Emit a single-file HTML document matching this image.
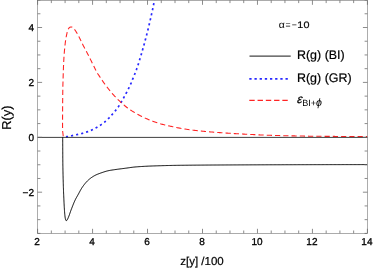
<!DOCTYPE html>
<html><head><meta charset="utf-8"><title>plot</title>
<style>
html,body{margin:0;padding:0;background:#fff;}
body{width:374px;height:270px;overflow:hidden;font-family:"Liberation Sans",sans-serif;}
svg{display:block;will-change:transform;transform:translateZ(0)}
text{font-family:"Liberation Sans",sans-serif;fill:#000;text-rendering:geometricPrecision}
.tl text{font-size:10px;stroke:#000;stroke-width:0.3px}
</style></head><body>
<svg width="374" height="270" viewBox="0 0 374 270">
<rect width="374" height="270" fill="#fff"/>
<defs><clipPath id="c"><rect x="37.6" y="0.3" width="329.79999999999995" height="233.0"/></clipPath></defs>
<g clip-path="url(#c)"><g fill="none" transform="scale(1,1.0)">
<path d="M62.70,137.00 L62.70,137.80 L62.70,138.60 L62.70,139.40 L62.70,140.20 L62.70,141.00 L62.71,141.80 L62.71,142.60 L62.71,143.40 L62.71,144.20 L62.71,145.00 L62.72,145.80 L62.72,146.60 L62.72,147.40 L62.73,148.20 L62.73,149.00 L62.74,149.80 L62.74,150.60 L62.74,151.40 L62.75,152.20 L62.75,153.00 L62.76,153.80 L62.76,154.60 L62.77,155.40 L62.77,156.20 L62.78,157.00 L62.78,157.80 L62.79,158.60 L62.80,159.40 L62.80,160.20 L62.81,161.00 L62.82,161.80 L62.82,162.60 L62.83,163.40 L62.84,164.20 L62.85,165.00 L62.87,165.80 L62.88,166.60 L62.89,167.40 L62.91,168.20 L62.92,169.00 L62.94,169.80 L62.95,170.60 L62.97,171.40 L62.99,172.20 L63.01,173.00 L63.02,173.80 L63.04,174.60 L63.06,175.40 L63.08,176.20 L63.10,177.00 L63.12,177.80 L63.14,178.60 L63.16,179.40 L63.19,180.20 L63.21,181.00 L63.23,181.80 L63.25,182.60 L63.27,183.40 L63.29,184.19 L63.32,184.99 L63.34,185.79 L63.36,186.59 L63.39,187.39 L63.42,188.19 L63.44,188.99 L63.47,189.79 L63.50,190.59 L63.53,191.39 L63.56,192.19 L63.59,192.99 L63.62,193.79 L63.66,194.59 L63.69,195.39 L63.73,196.19 L63.76,196.99 L63.80,197.79 L63.83,198.59 L63.87,199.38 L63.91,200.18 L63.95,200.98 L63.99,201.78 L64.03,202.58 L64.07,203.38 L64.11,204.18 L64.15,204.98 L64.19,205.78 L64.24,206.58 L64.28,207.38 L64.33,208.17 L64.37,208.97 L64.42,209.77 L64.48,210.57 L64.54,211.37 L64.60,212.17 L64.66,212.96 L64.73,213.76 L64.81,214.55 L64.88,215.36 L64.97,216.17 L65.07,216.97 L65.19,217.77 L65.34,218.55 L65.53,219.30 L65.87,220.19 L66.33,220.78 L66.82,220.41 L67.30,219.64 L67.68,218.94 L68.02,218.21 L68.34,217.48 L68.64,216.74 L68.93,216.00 L69.21,215.25 L69.49,214.50 L69.75,213.74 L70.01,212.98 L70.28,212.23 L70.54,211.47 L70.81,210.71 L71.08,209.96 L71.37,209.22 L71.66,208.47 L71.95,207.72 L72.24,206.98 L72.53,206.23 L72.82,205.48 L73.12,204.74 L73.42,203.99 L73.72,203.25 L74.03,202.51 L74.35,201.78 L74.67,201.05 L75.00,200.33 L75.35,199.61 L75.70,198.89 L76.08,198.19 L76.47,197.49 L76.87,196.80 L77.27,196.10 L77.67,195.41 L78.06,194.71 L78.45,194.00 L78.83,193.30 L79.20,192.59 L79.58,191.88 L79.96,191.17 L80.34,190.46 L80.74,189.76 L81.14,189.07 L81.55,188.39 L81.98,187.73 L82.42,187.07 L82.88,186.42 L83.35,185.77 L83.83,185.12 L84.32,184.47 L84.83,183.84 L85.34,183.21 L85.87,182.60 L86.40,182.00 L86.95,181.41 L87.51,180.84 L88.07,180.30 L88.65,179.77 L89.25,179.26 L89.87,178.75 L90.51,178.26 L91.16,177.78 L91.82,177.31 L92.50,176.86 L93.18,176.43 L93.87,176.02 L94.57,175.63 L95.26,175.27 L95.98,174.92 L96.70,174.59 L97.44,174.28 L98.18,173.98 L98.94,173.69 L99.69,173.41 L100.45,173.13 L101.21,172.87 L101.96,172.61 L102.72,172.35 L103.48,172.10 L104.24,171.84 L105.01,171.60 L105.78,171.37 L106.55,171.15 L107.32,170.95 L108.10,170.77 L108.87,170.60 L109.66,170.45 L110.44,170.31 L111.23,170.18 L112.02,170.05 L112.82,169.93 L113.61,169.82 L114.40,169.70 L115.20,169.59 L115.99,169.47 L116.78,169.36 L117.57,169.25 L118.37,169.15 L119.16,169.04 L119.95,168.94 L120.75,168.84 L121.54,168.74 L122.33,168.64 L123.13,168.54 L123.92,168.44 L124.71,168.34 L125.51,168.23 L126.30,168.13 L127.09,168.02 L127.89,167.90 L128.68,167.79 L129.47,167.68 L130.27,167.56 L131.06,167.45 L131.85,167.35 L132.65,167.25 L133.44,167.15 L134.23,167.07 L135.03,166.99 L135.82,166.91 L136.62,166.85 L137.42,166.79 L138.21,166.73 L139.01,166.68 L139.81,166.62 L140.61,166.57 L141.41,166.52 L142.20,166.47 L143.00,166.42 L143.80,166.38 L144.60,166.33 L145.40,166.29 L146.20,166.25 L147.00,166.21 L147.80,166.17 L148.60,166.14 L149.40,166.10 L150.20,166.07 L151.00,166.04 L151.80,166.01 L152.60,165.98 L153.40,165.95 L154.20,165.93 L155.00,165.90 L155.79,165.87 L156.59,165.84 L157.39,165.82 L158.19,165.79 L158.99,165.77 L159.79,165.74 L160.59,165.72 L161.39,165.69 L162.19,165.67 L162.99,165.65 L163.79,165.63 L164.59,165.60 L165.39,165.58 L166.19,165.56 L166.99,165.54 L167.79,165.52 L168.59,165.50 L169.39,165.48 L170.19,165.47 L170.99,165.45 L171.79,165.43 L172.59,165.42 L173.39,165.40 L174.19,165.39 L174.99,165.37 L175.79,165.36 L176.59,165.35 L177.39,165.33 L178.19,165.32 L178.99,165.31 L179.79,165.30 L180.59,165.29 L181.39,165.28 L182.19,165.28 L182.99,165.27 L183.79,165.26 L184.59,165.25 L185.39,165.24 L186.19,165.23 L186.99,165.23 L187.79,165.22 L188.59,165.21 L189.39,165.20 L190.19,165.19 L190.99,165.19 L191.79,165.18 L192.59,165.17 L193.39,165.17 L194.19,165.16 L194.99,165.15 L195.79,165.15 L196.59,165.14 L197.39,165.13 L198.19,165.13 L198.99,165.12 L199.79,165.11 L200.59,165.11 L201.39,165.10 L202.19,165.10 L202.99,165.09 L203.79,165.08 L204.59,165.08 L205.39,165.07 L206.19,165.07 L206.99,165.06 L207.79,165.06 L208.59,165.05 L209.39,165.05 L210.19,165.04 L210.99,165.04 L211.79,165.03 L212.59,165.03 L213.39,165.02 L214.19,165.02 L214.99,165.01 L215.79,165.01 L216.59,165.01 L217.39,165.00 L218.19,165.00 L218.99,164.99 L219.79,164.99 L220.59,164.98 L221.39,164.98 L222.19,164.98 L222.99,164.97 L223.79,164.97 L224.59,164.96 L225.39,164.96 L226.19,164.96 L226.99,164.95 L227.79,164.95 L228.59,164.95 L229.39,164.94 L230.19,164.94 L230.99,164.93 L231.79,164.93 L232.59,164.93 L233.39,164.92 L234.19,164.92 L234.99,164.92 L235.79,164.91 L236.59,164.91 L237.39,164.91 L238.19,164.90 L238.99,164.90 L239.79,164.89 L240.59,164.89 L241.39,164.89 L242.19,164.88 L242.99,164.88 L243.79,164.88 L244.59,164.87 L245.39,164.87 L246.19,164.87 L246.99,164.86 L247.79,164.86 L248.59,164.86 L249.39,164.85 L250.19,164.85 L250.99,164.85 L251.79,164.84 L252.59,164.84 L253.39,164.84 L254.19,164.84 L254.99,164.83 L255.79,164.83 L256.59,164.83 L257.39,164.82 L258.19,164.82 L258.99,164.82 L259.79,164.81 L260.59,164.81 L261.39,164.81 L262.19,164.81 L262.99,164.80 L263.79,164.80 L264.59,164.80 L265.39,164.79 L266.19,164.79 L266.99,164.79 L267.79,164.79 L268.59,164.78 L269.39,164.78 L270.19,164.78 L270.99,164.78 L271.79,164.77 L272.59,164.77 L273.39,164.77 L274.19,164.77 L274.99,164.76 L275.79,164.76 L276.59,164.76 L277.39,164.76 L278.19,164.75 L278.99,164.75 L279.79,164.75 L280.59,164.75 L281.39,164.75 L282.19,164.74 L282.99,164.74 L283.79,164.74 L284.59,164.74 L285.39,164.73 L286.19,164.73 L286.99,164.73 L287.79,164.73 L288.59,164.73 L289.39,164.72 L290.19,164.72 L290.99,164.72 L291.79,164.72 L292.59,164.72 L293.39,164.71 L294.19,164.71 L294.99,164.71 L295.79,164.71 L296.59,164.71 L297.39,164.71 L298.19,164.70 L298.99,164.70 L299.79,164.70 L300.59,164.70 L301.39,164.70 L302.19,164.70 L302.99,164.69 L303.79,164.69 L304.59,164.69 L305.39,164.69 L306.19,164.69 L306.99,164.69 L307.79,164.68 L308.59,164.68 L309.39,164.68 L310.19,164.68 L310.99,164.68 L311.79,164.68 L312.59,164.67 L313.39,164.67 L314.19,164.67 L314.99,164.67 L315.79,164.67 L316.59,164.67 L317.39,164.67 L318.19,164.66 L318.99,164.66 L319.79,164.66 L320.59,164.66 L321.39,164.66 L322.19,164.66 L322.99,164.66 L323.79,164.65 L324.59,164.65 L325.39,164.65 L326.19,164.65 L326.99,164.65 L327.79,164.65 L328.59,164.65 L329.39,164.64 L330.19,164.64 L330.99,164.64 L331.79,164.64 L332.59,164.64 L333.39,164.64 L334.19,164.64 L334.99,164.64 L335.79,164.63 L336.59,164.63 L337.39,164.63 L338.19,164.63 L338.99,164.63 L339.79,164.63 L340.59,164.63 L341.39,164.63 L342.19,164.62 L342.99,164.62 L343.79,164.62 L344.59,164.62 L345.39,164.62 L346.19,164.62 L346.99,164.62 L347.79,164.62 L348.59,164.62 L349.39,164.62 L350.19,164.61 L350.99,164.61 L351.79,164.61 L352.59,164.61 L353.39,164.61 L354.19,164.61 L354.99,164.61 L355.79,164.61 L356.59,164.61 L357.39,164.61 L358.19,164.61 L358.99,164.61 L359.79,164.61 L360.59,164.60 L361.39,164.60 L362.19,164.60 L362.99,164.60 L363.79,164.60 L364.59,164.60 L365.39,164.60 L366.19,164.60 L366.99,164.60" stroke="#000" stroke-width="1.0"/>
<path d="M62.90,137.40 L63.69,137.27 L64.48,137.14 L65.27,137.00 L66.05,136.86 L66.84,136.71 L67.63,136.56 L68.41,136.40 L69.19,136.23 L69.97,136.06 L70.75,135.89 L71.54,135.72 L72.32,135.55 L73.10,135.39 L73.89,135.24 L74.67,135.08 L75.46,134.92 L76.24,134.76 L77.02,134.60 L77.80,134.43 L78.59,134.26 L79.37,134.08 L80.15,133.90 L80.93,133.72 L81.70,133.53 L82.48,133.33 L83.25,133.11 L84.02,132.89 L84.78,132.66 L85.55,132.42 L86.31,132.17 L87.06,131.91 L87.82,131.64 L88.57,131.36 L89.31,131.07 L90.05,130.76 L90.79,130.45 L91.52,130.13 L92.25,129.79 L92.96,129.44 L93.68,129.08 L94.39,128.71 L95.09,128.33 L95.79,127.94 L96.49,127.55 L97.19,127.15 L97.88,126.75 L98.57,126.35 L99.25,125.93 L99.93,125.50 L100.60,125.07 L101.26,124.62 L101.92,124.16 L102.57,123.70 L103.21,123.22 L103.85,122.73 L104.48,122.23 L105.09,121.72 L105.69,121.20 L106.29,120.66 L106.87,120.11 L107.45,119.56 L108.01,118.99 L108.58,118.42 L109.14,117.85 L109.68,117.27 L110.23,116.68 L110.76,116.09 L111.30,115.49 L111.83,114.89 L112.36,114.29 L112.89,113.69 L113.42,113.09 L113.94,112.49 L114.46,111.88 L114.97,111.26 L115.47,110.64 L115.96,110.01 L116.45,109.38 L116.94,108.74 L117.41,108.09 L117.88,107.44 L118.34,106.79 L118.78,106.13 L119.22,105.46 L119.65,104.78 L120.08,104.10 L120.50,103.42 L120.91,102.73 L121.31,102.05 L121.72,101.35 L122.11,100.66 L122.50,99.96 L122.89,99.26 L123.27,98.56 L123.65,97.85 L124.04,97.15 L124.42,96.45 L124.81,95.75 L125.19,95.05 L125.57,94.34 L125.95,93.64 L126.33,92.93 L126.70,92.23 L127.07,91.52 L127.44,90.81 L127.81,90.10 L128.17,89.38 L128.52,88.66 L128.87,87.94 L129.21,87.22 L129.55,86.50 L129.88,85.77 L130.21,85.04 L130.54,84.31 L130.85,83.57 L131.17,82.84 L131.47,82.10 L131.77,81.36 L132.07,80.61 L132.37,79.87 L132.67,79.13 L132.97,78.39 L133.27,77.65 L133.58,76.91 L133.88,76.17 L134.18,75.43 L134.49,74.69 L134.78,73.94 L135.08,73.20 L135.37,72.46 L135.67,71.71 L135.96,70.97 L136.24,70.22 L136.51,69.47 L136.78,68.71 L137.04,67.96 L137.30,67.20 L137.55,66.44 L137.80,65.68 L138.05,64.92 L138.29,64.16 L138.54,63.39 L138.77,62.63 L139.01,61.87 L139.25,61.10 L139.48,60.34 L139.72,59.57 L139.95,58.81 L140.18,58.04 L140.41,57.28 L140.64,56.51 L140.87,55.74 L141.10,54.98 L141.32,54.21 L141.55,53.44 L141.77,52.67 L142.00,51.90 L142.22,51.14 L142.44,50.37 L142.66,49.60 L142.88,48.83 L143.09,48.06 L143.31,47.29 L143.53,46.52 L143.74,45.74 L143.95,44.97 L144.17,44.20 L144.38,43.43 L144.59,42.66 L144.80,41.89 L145.00,41.11 L145.21,40.34 L145.42,39.57 L145.62,38.80 L145.83,38.02 L146.03,37.25 L146.23,36.47 L146.43,35.70 L146.63,34.93 L146.83,34.15 L147.03,33.38 L147.22,32.60 L147.42,31.82 L147.62,31.05 L147.81,30.27 L148.00,29.49 L148.19,28.72 L148.38,27.94 L148.57,27.16 L148.76,26.39 L148.95,25.61 L149.13,24.83 L149.32,24.05 L149.50,23.27 L149.68,22.49 L149.87,21.71 L150.05,20.93 L150.23,20.16 L150.40,19.38 L150.58,18.60 L150.76,17.82 L150.94,17.04 L151.11,16.26 L151.29,15.47 L151.46,14.69 L151.64,13.91 L151.81,13.13 L151.98,12.35 L152.15,11.57 L152.32,10.79 L152.49,10.00 L152.65,9.22 L152.82,8.44 L152.98,7.65 L153.14,6.87 L153.30,6.09 L153.46,5.30 L153.61,4.52 L153.76,3.73 L153.91,2.95 L154.06,2.16 L154.20,1.37 L154.33,0.58 L154.47,-0.21 L154.60,-0.99" stroke="#2828ff" stroke-width="1.7" stroke-dasharray="2.15 3.02" stroke-dashoffset="2.07"/>
<path d="M63.30,137.30 L63.24,136.50 L63.17,135.71 L63.09,134.91 L63.01,134.11 L62.92,133.32 L62.80,132.52 L62.70,131.73 L62.65,130.93 L62.62,130.14 L62.60,129.34 L62.59,128.54 L62.57,127.74 L62.56,126.94 L62.55,126.14 L62.55,125.33 L62.55,124.53 L62.55,123.73 L62.55,122.93 L62.55,122.13 L62.55,121.33 L62.56,120.53 L62.56,119.73 L62.56,118.93 L62.56,118.13 L62.57,117.33 L62.57,116.53 L62.57,115.73 L62.58,114.93 L62.58,114.13 L62.58,113.33 L62.59,112.53 L62.59,111.73 L62.60,110.93 L62.60,110.13 L62.60,109.33 L62.61,108.53 L62.61,107.73 L62.62,106.93 L62.62,106.13 L62.63,105.33 L62.63,104.53 L62.64,103.73 L62.65,102.93 L62.65,102.13 L62.66,101.33 L62.67,100.53 L62.68,99.73 L62.69,98.93 L62.69,98.13 L62.70,97.33 L62.71,96.54 L62.72,95.74 L62.73,94.94 L62.74,94.14 L62.75,93.34 L62.76,92.54 L62.77,91.74 L62.79,90.94 L62.80,90.14 L62.81,89.34 L62.82,88.54 L62.84,87.74 L62.86,86.94 L62.87,86.14 L62.89,85.34 L62.91,84.54 L62.93,83.74 L62.96,82.94 L62.98,82.14 L63.00,81.34 L63.03,80.54 L63.05,79.74 L63.07,78.94 L63.10,78.14 L63.13,77.34 L63.15,76.54 L63.18,75.74 L63.20,74.94 L63.23,74.14 L63.25,73.34 L63.28,72.54 L63.31,71.74 L63.33,70.94 L63.36,70.14 L63.39,69.34 L63.42,68.54 L63.45,67.74 L63.48,66.94 L63.51,66.15 L63.55,65.35 L63.58,64.55 L63.62,63.75 L63.65,62.95 L63.69,62.15 L63.73,61.35 L63.77,60.55 L63.81,59.75 L63.86,58.96 L63.91,58.16 L63.96,57.36 L64.01,56.56 L64.06,55.76 L64.12,54.96 L64.18,54.16 L64.24,53.37 L64.31,52.57 L64.37,51.77 L64.44,50.97 L64.51,50.17 L64.59,49.38 L64.66,48.58 L64.74,47.78 L64.82,46.99 L64.90,46.19 L64.99,45.40 L65.08,44.61 L65.17,43.81 L65.26,43.02 L65.36,42.22 L65.47,41.43 L65.58,40.63 L65.70,39.84 L65.82,39.05 L65.96,38.26 L66.09,37.47 L66.24,36.68 L66.39,35.89 L66.55,35.11 L66.71,34.34 L66.89,33.55 L67.07,32.75 L67.28,31.96 L67.50,31.17 L67.76,30.40 L68.04,29.67 L68.36,28.98 L68.77,28.29 L69.32,27.65 L69.95,27.22 L70.73,26.94 L71.51,26.96 L72.26,27.30 L72.92,27.72 L73.52,28.26 L74.06,28.88 L74.56,29.50 L75.04,30.13 L75.49,30.78 L75.93,31.44 L76.35,32.12 L76.76,32.82 L77.16,33.52 L77.56,34.23 L77.94,34.93 L78.33,35.64 L78.71,36.35 L79.09,37.05 L79.46,37.76 L79.83,38.47 L80.19,39.18 L80.54,39.90 L80.89,40.62 L81.23,41.34 L81.58,42.07 L81.92,42.79 L82.27,43.51 L82.62,44.23 L82.97,44.95 L83.33,45.66 L83.70,46.38 L84.07,47.09 L84.44,47.80 L84.81,48.50 L85.18,49.21 L85.56,49.92 L85.93,50.62 L86.31,51.33 L86.68,52.04 L87.06,52.74 L87.43,53.45 L87.80,54.16 L88.17,54.87 L88.54,55.58 L88.90,56.29 L89.26,57.01 L89.62,57.73 L89.97,58.44 L90.32,59.16 L90.67,59.88 L91.03,60.60 L91.38,61.32 L91.73,62.04 L92.08,62.75 L92.43,63.47 L92.79,64.19 L93.15,64.90 L93.51,65.62 L93.87,66.33 L94.23,67.05 L94.58,67.77 L94.94,68.49 L95.30,69.20 L95.66,69.92 L96.03,70.63 L96.41,71.33 L96.79,72.03 L97.18,72.73 L97.59,73.41 L98.01,74.09 L98.45,74.76 L98.90,75.42 L99.35,76.08 L99.80,76.75 L100.24,77.42 L100.67,78.09 L101.11,78.76 L101.55,79.43 L101.99,80.09 L102.44,80.75 L102.90,81.41 L103.36,82.07 L103.82,82.72 L104.29,83.37 L104.76,84.02 L105.23,84.66 L105.70,85.31 L106.18,85.95 L106.66,86.59 L107.15,87.22 L107.64,87.85 L108.14,88.48 L108.64,89.10 L109.15,89.72 L109.65,90.34 L110.16,90.96 L110.67,91.58 L111.17,92.20 L111.68,92.82 L112.20,93.43 L112.72,94.04 L113.25,94.64 L113.78,95.23 L114.32,95.82 L114.87,96.41 L115.42,96.99 L115.98,97.56 L116.54,98.13 L117.10,98.70 L117.67,99.26 L118.24,99.83 L118.81,100.38 L119.39,100.93 L119.97,101.48 L120.56,102.03 L121.15,102.57 L121.74,103.11 L122.34,103.64 L122.94,104.17 L123.54,104.69 L124.15,105.21 L124.77,105.72 L125.39,106.22 L126.02,106.72 L126.65,107.21 L127.29,107.70 L127.93,108.17 L128.58,108.64 L129.23,109.11 L129.89,109.56 L130.55,110.02 L131.21,110.46 L131.88,110.90 L132.56,111.32 L133.24,111.75 L133.92,112.16 L134.61,112.57 L135.30,112.98 L135.99,113.38 L136.69,113.77 L137.39,114.16 L138.09,114.55 L138.79,114.93 L139.50,115.30 L140.21,115.67 L140.92,116.03 L141.64,116.40 L142.35,116.75 L143.07,117.10 L143.80,117.45 L144.52,117.79 L145.25,118.12 L145.98,118.45 L146.71,118.77 L147.44,119.09 L148.18,119.40 L148.92,119.70 L149.66,120.00 L150.40,120.30 L151.15,120.59 L151.90,120.88 L152.65,121.16 L153.40,121.43 L154.15,121.70 L154.91,121.97 L155.66,122.23 L156.42,122.49 L157.18,122.74 L157.94,123.00 L158.70,123.24 L159.46,123.49 L160.23,123.72 L161.00,123.95 L161.76,124.18 L162.53,124.39 L163.30,124.60 L164.08,124.80 L164.85,124.99 L165.63,125.18 L166.41,125.36 L167.19,125.53 L167.97,125.71 L168.76,125.87 L169.54,126.04 L170.32,126.21 L171.11,126.37 L171.89,126.54 L172.67,126.71 L173.45,126.88 L174.24,127.04 L175.02,127.21 L175.80,127.37 L176.59,127.53 L177.37,127.69 L178.16,127.85 L178.94,128.00 L179.73,128.14 L180.51,128.28 L181.30,128.42 L182.09,128.56 L182.88,128.69 L183.67,128.82 L184.46,128.95 L185.25,129.08 L186.04,129.21 L186.83,129.33 L187.62,129.45 L188.41,129.57 L189.20,129.69 L190.00,129.80 L190.79,129.91 L191.58,130.01 L192.38,130.11 L193.17,130.21 L193.96,130.31 L194.76,130.40 L195.55,130.49 L196.34,130.58 L197.14,130.66 L197.93,130.75 L198.73,130.83 L199.53,130.91 L200.32,130.99 L201.12,131.07 L201.91,131.15 L202.71,131.23 L203.51,131.30 L204.30,131.38 L205.10,131.45 L205.90,131.52 L206.70,131.59 L207.49,131.66 L208.29,131.73 L209.09,131.80 L209.89,131.86 L210.68,131.93 L211.48,131.99 L212.28,132.06 L213.08,132.12 L213.87,132.18 L214.67,132.25 L215.47,132.31 L216.27,132.37 L217.07,132.43 L217.86,132.49 L218.66,132.55 L219.46,132.60 L220.26,132.66 L221.05,132.72 L221.85,132.78 L222.65,132.83 L223.45,132.89 L224.25,132.94 L225.04,133.00 L225.84,133.05 L226.64,133.10 L227.44,133.16 L228.24,133.21 L229.04,133.26 L229.83,133.31 L230.63,133.36 L231.43,133.41 L232.23,133.46 L233.03,133.51 L233.83,133.56 L234.63,133.60 L235.42,133.65 L236.22,133.70 L237.02,133.74 L237.82,133.79 L238.62,133.83 L239.42,133.88 L240.22,133.92 L241.02,133.97 L241.81,134.01 L242.61,134.05 L243.41,134.10 L244.21,134.14 L245.01,134.18 L245.81,134.22 L246.61,134.26 L247.41,134.30 L248.21,134.34 L249.00,134.38 L249.80,134.43 L250.60,134.47 L251.40,134.50 L252.20,134.54 L253.00,134.58 L253.80,134.62 L254.60,134.66 L255.40,134.70 L256.20,134.74 L257.00,134.77 L257.80,134.81 L258.59,134.84 L259.39,134.88 L260.19,134.92 L260.99,134.95 L261.79,134.98 L262.59,135.02 L263.39,135.05 L264.19,135.08 L264.99,135.11 L265.79,135.14 L266.59,135.17 L267.39,135.20 L268.19,135.23 L268.99,135.26 L269.79,135.29 L270.59,135.31 L271.38,135.34 L272.18,135.36 L272.98,135.39 L273.78,135.41 L274.58,135.44 L275.38,135.46 L276.18,135.48 L276.98,135.51 L277.78,135.53 L278.58,135.55 L279.38,135.57 L280.18,135.59 L280.98,135.62 L281.78,135.64 L282.58,135.66 L283.38,135.67 L284.18,135.69 L284.98,135.71 L285.78,135.73 L286.58,135.75 L287.38,135.77 L288.18,135.78 L288.98,135.80 L289.78,135.82 L290.58,135.83 L291.38,135.85 L292.18,135.86 L292.98,135.88 L293.78,135.90 L294.58,135.91 L295.38,135.93 L296.18,135.94 L296.98,135.96 L297.78,135.98 L298.58,135.99 L299.38,136.01 L300.18,136.02 L300.98,136.04 L301.78,136.05 L302.58,136.06 L303.38,136.08 L304.18,136.09 L304.98,136.11 L305.78,136.12 L306.58,136.13 L307.38,136.14 L308.18,136.16 L308.98,136.17 L309.78,136.18 L310.58,136.19 L311.38,136.20 L312.18,136.21 L312.98,136.23 L313.78,136.24 L314.58,136.25 L315.38,136.25 L316.17,136.26 L316.97,136.27 L317.77,136.28 L318.57,136.29 L319.37,136.29 L320.17,136.30 L320.97,136.31 L321.77,136.31 L322.57,136.32 L323.37,136.33 L324.17,136.33 L324.97,136.34 L325.77,136.35 L326.57,136.35 L327.37,136.36 L328.17,136.37 L328.97,136.37 L329.77,136.38 L330.57,136.38 L331.37,136.39 L332.17,136.40 L332.97,136.40 L333.77,136.41 L334.57,136.41 L335.37,136.42 L336.17,136.43 L336.97,136.43 L337.77,136.44 L338.57,136.44 L339.37,136.45 L340.17,136.45 L340.97,136.46 L341.77,136.46 L342.57,136.47 L343.37,136.47 L344.17,136.48 L344.97,136.48 L345.77,136.49 L346.57,136.49 L347.37,136.49 L348.17,136.50 L348.97,136.50 L349.77,136.51 L350.57,136.51 L351.37,136.51 L352.17,136.52 L352.97,136.52 L353.77,136.52 L354.57,136.53 L355.37,136.53 L356.17,136.53 L356.97,136.53 L357.77,136.54 L358.57,136.54 L359.37,136.54 L360.17,136.54 L360.97,136.54 L361.77,136.55 L362.57,136.55 L363.37,136.55 L364.17,136.55 L364.97,136.55 L365.77,136.55 L366.57,136.55 L367.37,136.55" stroke="#ff2424" stroke-width="1.08" stroke-dasharray="5.2 3.06" stroke-dashoffset="-1.1"/>
</g></g>
<path d="M37.6,137.40 H367.4" stroke="#1e1e1e" stroke-width="0.85" fill="none"/>
<rect x="37.6" y="0.3" width="329.79999999999995" height="233.0" fill="none" stroke="#707070" stroke-width="0.58"/>
<path d="M37.60,233.3 v-4.5 M37.60,0.3 v4.5 M51.34,233.3 v-2.8 M51.34,0.3 v2.8 M65.08,233.3 v-2.8 M65.08,0.3 v2.8 M78.82,233.3 v-2.8 M78.82,0.3 v2.8 M92.57,233.3 v-4.5 M92.57,0.3 v4.5 M106.31,233.3 v-2.8 M106.31,0.3 v2.8 M120.05,233.3 v-2.8 M120.05,0.3 v2.8 M133.79,233.3 v-2.8 M133.79,0.3 v2.8 M147.53,233.3 v-4.5 M147.53,0.3 v4.5 M161.27,233.3 v-2.8 M161.27,0.3 v2.8 M175.01,233.3 v-2.8 M175.01,0.3 v2.8 M188.76,233.3 v-2.8 M188.76,0.3 v2.8 M202.50,233.3 v-4.5 M202.50,0.3 v4.5 M216.24,233.3 v-2.8 M216.24,0.3 v2.8 M229.98,233.3 v-2.8 M229.98,0.3 v2.8 M243.72,233.3 v-2.8 M243.72,0.3 v2.8 M257.46,233.3 v-4.5 M257.46,0.3 v4.5 M271.21,233.3 v-2.8 M271.21,0.3 v2.8 M284.95,233.3 v-2.8 M284.95,0.3 v2.8 M298.69,233.3 v-2.8 M298.69,0.3 v2.8 M312.43,233.3 v-4.5 M312.43,0.3 v4.5 M326.17,233.3 v-2.8 M326.17,0.3 v2.8 M339.91,233.3 v-2.8 M339.91,0.3 v2.8 M353.65,233.3 v-2.8 M353.65,0.3 v2.8 M367.40,233.3 v-4.5 M367.40,0.3 v4.5 M37.6,233.38 h2.8 M367.4,233.38 h-2.8 M37.6,219.65 h2.8 M367.4,219.65 h-2.8 M37.6,205.93 h2.8 M367.4,205.93 h-2.8 M37.6,192.20 h4.5 M367.4,192.20 h-4.5 M37.6,178.48 h2.8 M367.4,178.48 h-2.8 M37.6,164.75 h2.8 M367.4,164.75 h-2.8 M37.6,151.03 h2.8 M367.4,151.03 h-2.8 M37.6,137.30 h4.5 M367.4,137.30 h-4.5 M37.6,123.58 h2.8 M367.4,123.58 h-2.8 M37.6,109.85 h2.8 M367.4,109.85 h-2.8 M37.6,96.13 h2.8 M367.4,96.13 h-2.8 M37.6,82.40 h4.5 M367.4,82.40 h-4.5 M37.6,68.68 h2.8 M367.4,68.68 h-2.8 M37.6,54.95 h2.8 M367.4,54.95 h-2.8 M37.6,41.23 h2.8 M367.4,41.23 h-2.8 M37.6,27.50 h4.5 M367.4,27.50 h-4.5 M37.6,13.78 h2.8 M367.4,13.78 h-2.8 M37.6,0.05 h2.8 M367.4,0.05 h-2.8" stroke="#666" stroke-width="0.75" fill="none"/>
<g class="tl"><text x="37.1" y="245" text-anchor="middle">2</text><text x="92.1" y="245" text-anchor="middle">4</text><text x="147.0" y="245" text-anchor="middle">6</text><text x="202.0" y="245" text-anchor="middle">8</text><text x="257.0" y="245" text-anchor="middle">10</text><text x="311.9" y="245" text-anchor="middle">12</text><text x="366.9" y="245" text-anchor="middle">14</text><text x="34" y="195.8" text-anchor="end">−2</text><text x="34" y="140.9" text-anchor="end">0</text><text x="34" y="86.0" text-anchor="end">2</text><text x="34" y="31.1" text-anchor="end">4</text></g>
<text x="202" y="264.6" text-anchor="middle" font-size="11.5" stroke="#000" stroke-width="0.2">z[y] /100</text>
<text transform="translate(10.6,117.6) rotate(-90)" text-anchor="middle" font-size="12.9" stroke="#000" stroke-width="0.2">R(y)</text>
<text transform="translate(281.7,28.2) scale(1.05,1)" text-anchor="middle" font-size="10.0" fill="#8a8a8a">α</text><text transform="translate(288.0,28.2) scale(0.93,1)" text-anchor="middle" font-size="9.4" fill="#808080">=</text><text transform="translate(294.4,28.2) scale(0.93,1)" text-anchor="middle" font-size="9.4" fill="#222">−</text><text transform="translate(300.3,28.2) scale(1.15,1)" text-anchor="middle" font-size="9.4" fill="#222" stroke="#222" stroke-width="0.2">1</text><text transform="translate(306.4,28.2) scale(1.15,1)" text-anchor="middle" font-size="9.4" fill="#222" stroke="#222" stroke-width="0.2">0</text>
<g fill="none" transform="scale(1,1.0)">
<path d="M249.5,56.00 H290.7" stroke="#444" stroke-width="1.25"/>
<path d="M249.3,78.90 H288.1" stroke="#2828ff" stroke-width="1.9" stroke-dasharray="2.3 2.87"/>
<path d="M249.3,100.40 H288.1" stroke="#ff2424" stroke-width="1.35" stroke-dasharray="5.4 2.86"/>
</g>
<text x="297" y="59.0" font-size="12.45" stroke="#000" stroke-width="0.2">R(g) (BI)</text>
<text x="297" y="81.6" font-size="12.45" stroke="#000" stroke-width="0.2">R(g) (GR)</text>
<text transform="translate(296.5,103.1) skewX(-14)" font-size="12" stroke="#000" stroke-width="0.25">ε</text><text x="302.2" y="105.5" font-size="9.1">BI+<tspan font-style="italic" font-size="10.6">ϕ</tspan></text>
</svg>
</body></html>
